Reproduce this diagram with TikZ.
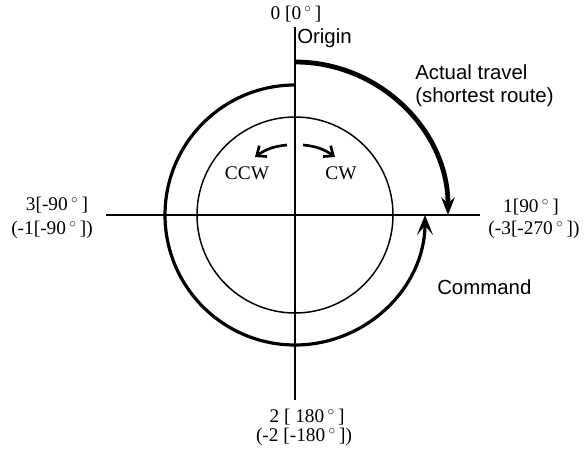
\documentclass[tikz,border=0pt]{standalone}
\usepackage{fontspec}
\setmainfont{Liberation Serif}
\newfontfamily\labsans{Liberation Sans}
\usetikzlibrary{arrows.meta}
\tikzset{
  axis/.style={line width=1.5pt},
  inner/.style={line width=1.1pt},
  cmd/.style={line width=2.4pt,-{Stealth[length=15pt,width=12pt,inset=7pt]}},
  travel/.style={line width=3.6pt,-{Stealth[length=13pt,width=10pt,inset=4pt]}},
  small/.style={line width=2pt,-{Straight Barb[length=6pt,width=10pt,line width=2pt]}},
  serif/.style={font=\fontsize{14.5}{16}\selectfont,inner sep=0pt},
  sans/.style={font=\labsans\fontsize{15.3}{17}\selectfont,inner sep=0pt},
}
\begin{document}
\begin{tikzpicture}[x=0.75pt,y=0.75pt]
\useasboundingbox (0,0) rectangle (586,452);
\coordinate (c) at (295,237);
\coordinate (vt) at (295,425);
\coordinate (vb) at (295,52);
\coordinate (hl) at (106,237);
\coordinate (hr) at (480,237);
\draw[axis] (vt) -- (vb);
\draw[axis] (hl) -- (hr);
\draw[inner] (c) circle[radius=98];
\draw[cmd] (295,367) arc[start angle=90,end angle=360,radius=130];
\draw[travel] (295,390) arc[start angle=90,end angle=0,radius=153];
\coordinate (ccwa) at (287,307);
\coordinate (ccwb) at (255,295);
\coordinate (cwa) at (303,307);
\coordinate (cwb) at (335,295);
\draw[small] (ccwa) to[bend right=15] (ccwb);
\draw[small] (cwa) to[bend left=15] (cwb);
\node[serif] (ccw) at (247,279) {CCW};
\node[serif] (cw) at (341,279) {CW};
\node[serif] (l0) at (296,438) {0 [0\,$^\circ$\,]};
\node[sans,anchor=west] (org) at (297,414) {Origin};
\node[sans,anchor=west] (at1) at (415,380) {Actual travel};
\node[sans,anchor=west] (at2) at (415,355) {(shortest route)};
\node[sans,anchor=west] (cmdl) at (437,165) {Command};
\node[serif] (l1a) at (531,245) {1[90\,$^\circ$\,]};
\node[serif] (l1b) at (534,222) {(-3[-270\,$^\circ$\,])};
\node[serif] (l3a) at (57,247) {3[-90\,$^\circ$\,]};
\node[serif] (l3b) at (52,222) {(-1[-90\,$^\circ$\,])};
\node[serif] (l2a) at (307,35) {2 [ 180\,$^\circ$\,]};
\node[serif] (l2b) at (304,15) {(-2 [-180\,$^\circ$\,])};
\end{tikzpicture}
\end{document}
